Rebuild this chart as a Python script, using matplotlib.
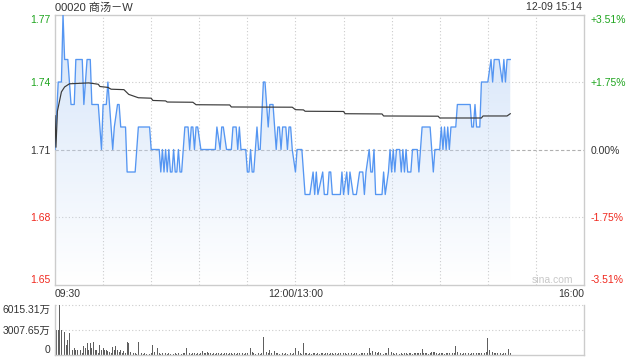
import numpy as np
import matplotlib
matplotlib.use("Agg")
import matplotlib.pyplot as plt
from matplotlib.patches import Polygon

plt.rcParams['font.family'] = ['Liberation Sans', 'Noto Sans CJK SC', 'DejaVu Sans']

title = "00020 商汤－W"
timestamp = "12-09 15:14"
prev_close = 1.71
price_ticks = [1.65, 1.68, 1.71, 1.74, 1.77]
pct_labels = ["-3.51%", "-1.75%", "0.00%", "+1.75%", "+3.51%"]
time_ticks = [0, 150, 330]
time_labels = ["09:30", "12:00/13:00", "16:00"]
vol_ticks = [0, 3007.65, 6015.31]
vol_labels = ["0", "3007.65万", "6015.31万"]

# price polyline vertices (minute index since 09:30, lunch removed)
price_t = [0, 2, 4, 5, 6, 8, 10, 12, 13, 17, 18, 20, 22, 23, 27, 29, 30, 32, 33, 36,
           37, 39, 40, 41, 44, 45, 50, 52, 59, 60, 65, 66, 67, 68, 69, 70, 71, 72, 73, 74,
           75, 76, 77, 78, 79, 80, 81, 83, 84, 85, 86, 87, 88, 89, 91, 100, 101, 103, 104, 105,
           107, 110, 111, 113, 114, 115, 116, 119, 120, 121, 122, 123, 124, 125, 126, 127, 128, 130, 131, 133,
           134, 136, 137, 138, 139, 140, 141, 142, 144, 145, 146, 147, 148, 150, 151, 154, 156, 159, 161, 162,
           163, 164, 167, 168, 170, 171, 172, 173, 178, 179, 180, 182, 183, 184, 186, 188, 190, 192, 193, 194,
           196, 197, 198, 199, 200, 204, 205, 206, 208, 209, 210, 211, 212, 213, 215, 216, 217, 218, 219, 220,
           222, 223, 226, 227, 228, 229, 234, 236, 237, 240, 241, 242, 243, 244, 245, 246, 247, 250, 251, 259,
           260, 261, 262, 263, 265, 266, 270, 272, 273, 274, 277, 279, 280, 281, 282, 284]
price_v = [1.71, 1.74, 1.74, 1.77, 1.75, 1.75, 1.73, 1.73, 1.75, 1.75, 1.73, 1.75, 1.75, 1.73, 1.73, 1.71, 1.73, 1.73, 1.74, 1.71,
           1.72, 1.73, 1.73, 1.72, 1.72, 1.70, 1.70, 1.72, 1.72, 1.71, 1.71, 1.70, 1.71, 1.70, 1.71, 1.70, 1.71, 1.70, 1.70, 1.71,
           1.70, 1.70, 1.71, 1.70, 1.70, 1.71, 1.72, 1.72, 1.71, 1.72, 1.72, 1.71, 1.72, 1.72, 1.71, 1.71, 1.72, 1.71, 1.72, 1.72,
           1.71, 1.71, 1.72, 1.72, 1.71, 1.72, 1.71, 1.71, 1.70, 1.70, 1.71, 1.70, 1.70, 1.71, 1.72, 1.71, 1.71, 1.74, 1.74, 1.72,
           1.73, 1.73, 1.72, 1.71, 1.72, 1.72, 1.71, 1.72, 1.72, 1.71, 1.72, 1.72, 1.71, 1.70, 1.71, 1.71, 1.69, 1.69, 1.70, 1.69,
           1.70, 1.69, 1.70, 1.69, 1.69, 1.70, 1.70, 1.69, 1.69, 1.70, 1.69, 1.70, 1.69, 1.70, 1.69, 1.69, 1.70, 1.70, 1.69, 1.70,
           1.71, 1.70, 1.70, 1.71, 1.69, 1.69, 1.70, 1.69, 1.70, 1.71, 1.70, 1.71, 1.70, 1.71, 1.71, 1.70, 1.71, 1.70, 1.71, 1.70,
           1.70, 1.71, 1.71, 1.70, 1.71, 1.72, 1.72, 1.70, 1.71, 1.71, 1.72, 1.71, 1.72, 1.71, 1.72, 1.71, 1.72, 1.72, 1.73, 1.73,
           1.72, 1.72, 1.73, 1.72, 1.72, 1.74, 1.74, 1.75, 1.74, 1.75, 1.75, 1.74, 1.75, 1.74, 1.75, 1.75]

# average price line vertices
avg_t = [0, 0.6, 1.5, 4, 6, 9, 21, 27, 28, 33, 35, 43, 46, 52, 60, 61, 69, 70, 86, 88,
         109, 110, 148, 150, 155, 156, 180, 181, 204, 205, 239, 240, 266, 267, 282, 284]
avg_v = [1.725, 1.711, 1.727, 1.7356, 1.7378, 1.7392, 1.7396, 1.7390, 1.7380, 1.7376, 1.7368, 1.7366, 1.7345, 1.7330, 1.7328, 1.7318, 1.7316, 1.7311, 1.7310, 1.7299,
         1.7298, 1.7289, 1.7288, 1.7277, 1.7276, 1.7270, 1.7269, 1.7259, 1.7258, 1.7249, 1.7248, 1.7240, 1.7240, 1.7249, 1.7249, 1.7259]

# per-minute volume (万)
volume = [3000, 3000, 3000, 6015, 3000, 3000, 2800, 1200, 1800, 2600,
          800, 600, 800, 600, 650, 400, 600, 300, 1100, 800,
          1400, 600, 1400, 800, 1600, 600, 650, 300, 1200, 650,
          800, 650, 600, 500, 400, 250, 1000, 600, 1100, 600,
          400, 600, 300, 500, 200, 1600, 1500, 400, 300, 300,
          200, 150, 1600, 300, 200, 150, 200, 150, 200, 150,
          200, 1200, 400, 200, 800, 300, 150, 200, 150, 200,
          150, 250, 150, 200, 150, 200, 150, 250, 200, 150,
          200, 300, 800, 400, 200, 150, 250, 200, 150, 200,
          150, 250, 500, 300, 200, 400, 300, 200, 150, 200,
          150, 200, 250, 150, 200, 150, 250, 200, 150, 200,
          250, 150, 200, 150, 200, 250, 150, 200, 150, 250,
          200, 300, 800, 400, 200, 150, 200, 250, 150, 300,
          2200, 500, 400, 200, 600, 300, 200, 500, 250, 200,
          150, 200, 250, 150, 200, 150, 250, 200, 150, 300,
          800, 400, 500, 200, 150, 1400, 300, 200, 150, 200,
          150, 250, 200, 150, 200, 150, 250, 200, 150, 200,
          200, 150, 250, 200, 150, 200, 150, 250, 200, 150,
          200, 250, 150, 200, 300, 200, 150, 200, 250, 200,
          150, 200, 250, 300, 200, 250, 800, 300, 500, 300,
          400, 250, 400, 300, 200, 150, 250, 200, 800, 300,
          400, 200, 150, 200, 250, 150, 200, 150, 250, 200,
          150, 200, 250, 150, 200, 300, 200, 250, 300, 700,
          300, 200, 250, 150, 200, 400, 400, 400, 200, 150,
          200, 250, 200, 150, 200, 250, 300, 200, 250, 300,
          1100, 400, 200, 250, 150, 200, 300, 250, 200, 150,
          200, 250, 200, 300, 250, 200, 300, 800, 300, 400,
          2000, 600, 500, 400, 300, 250, 200, 150, 200, 150,
          200, 250, 150, 700, 200]

GREEN = '#1fa51f'
RED = '#f0281e'
DARK = '#333333'
GRID = '#cccccc'
FS = 7.5

fig = plt.figure(figsize=(6.4, 3.6), dpi=100)
W, H = 640.0, 360.0
ax = fig.add_axes([55 / W, 1 - 284.5 / H, 529 / W, 270 / H])
axv = fig.add_axes([55 / W, 1 - 355 / H, 529 / W, 50 / H])

xmax = time_ticks[-1]
ymin, ymax = price_ticks[0], price_ticks[-1]

# gradient fill under price
verts = list(zip(price_t, price_v)) + [(price_t[-1], ymin), (price_t[0], ymin)]
poly = Polygon(verts, closed=True, facecolor='none', edgecolor='none')
ax.add_patch(poly)
n = 256
img = np.zeros((n, 1, 4))
img[..., 0] = 0.78
img[..., 1] = 0.86
img[..., 2] = 0.97
img[..., 3] = np.linspace(0.75, 0.0, n).reshape(-1, 1)
im = ax.imshow(img, extent=[0, xmax, ymin, ymax], aspect='auto', origin='upper', zorder=1,
               interpolation='bilinear')
im.set_clip_path(poly)

# grid
for t in range(30, xmax, 30):
    ax.axvline(t, color=GRID, lw=0.8, ls=(0, (1, 2)), zorder=0.5)
for p in price_ticks[1:-1]:
    if abs(p - prev_close) < 1e-9:
        ax.axhline(p, color='#b0b0b0', lw=0.8, ls=(0, (3, 2)), zorder=0.5)
    else:
        ax.axhline(p, color=GRID, lw=0.8, ls=(0, (1, 2)), zorder=0.5)

ax.plot(price_t, price_v, color='#5596f2', lw=0.95, zorder=3)
ax.plot(avg_t, avg_v, color='#3a3a3a', lw=0.85, zorder=4)

ax.set_xlim(0, xmax)
ax.set_ylim(ymin, ymax)
for s in ax.spines.values():
    s.set_color(GRID)
    s.set_linewidth(1.0)

def price_color(p):
    if p > prev_close + 1e-9:
        return GREEN
    if p < prev_close - 1e-9:
        return RED
    return DARK

ax.set_yticks(price_ticks)
ax.set_yticklabels([f"{p:.2f}" for p in price_ticks])
ax.tick_params(axis='y', length=0, pad=3, labelsize=FS)
ylabs = ax.get_yticklabels()
for p, lab in zip(price_ticks, ylabs):
    lab.set_color(price_color(p))
ylabs[0].set_va('bottom')
ylabs[-1].set_va('top')

ax.set_xticks(time_ticks)
ax.set_xticklabels(time_labels)
ax.tick_params(axis='x', length=0, pad=3.5, labelsize=FS, labelcolor=DARK)
xl = ax.get_xticklabels()
xl[0].set_ha('left')
xl[-1].set_ha('right')

ax2 = ax.twinx()
ax2.set_ylim(ymin, ymax)
ax2.set_yticks(price_ticks)
ax2.set_yticklabels(pct_labels)
ax2.tick_params(axis='y', length=0, pad=4.5, labelsize=FS)
for s in ax2.spines.values():
    s.set_visible(False)
rlabs = ax2.get_yticklabels()
for p, lab in zip(price_ticks, rlabs):
    lab.set_color(price_color(p))
rlabs[0].set_va('bottom')
rlabs[-1].set_va('top')

ax.text(0.979, 0.018, "sina.com", transform=ax.transAxes, ha='right', va='center',
        fontsize=FS, color='#c8c8c8', zorder=5)

fig.text(55 / W, 1 - 7.5 / H, title, ha='left', va='center', fontsize=8, color=DARK)
fig.text(582 / W, 1 - 7.5 / H, timestamp, ha='right', va='center', fontsize=7.5, color=DARK)

# volume
axv.bar(np.arange(len(volume)), volume, width=0.55, color='#5e5e5e', zorder=2)
axv.set_xlim(0, xmax)
axv.set_ylim(vol_ticks[0], vol_ticks[-1])
axv.axhline(vol_ticks[1], color=GRID, lw=0.8, ls=(0, (1, 2)), zorder=0.5)
axv.axhline(vol_ticks[2], color=GRID, lw=0.8, ls=(0, (1, 2)), zorder=0.5, clip_on=False)
axv.spines['top'].set_visible(False)
for k in ['left', 'right', 'bottom']:
    axv.spines[k].set_color(GRID)
    axv.spines[k].set_linewidth(1.0)
axv.set_xticks([])
axv.set_yticks(vol_ticks)
axv.set_yticklabels(vol_labels)
axv.tick_params(axis='y', length=0, pad=3, labelsize=FS, labelcolor=DARK)
vl = axv.get_yticklabels()
vl[0].set_va('bottom')
vl[-1].set_va('top')

fig.savefig("out.png", dpi=100)
